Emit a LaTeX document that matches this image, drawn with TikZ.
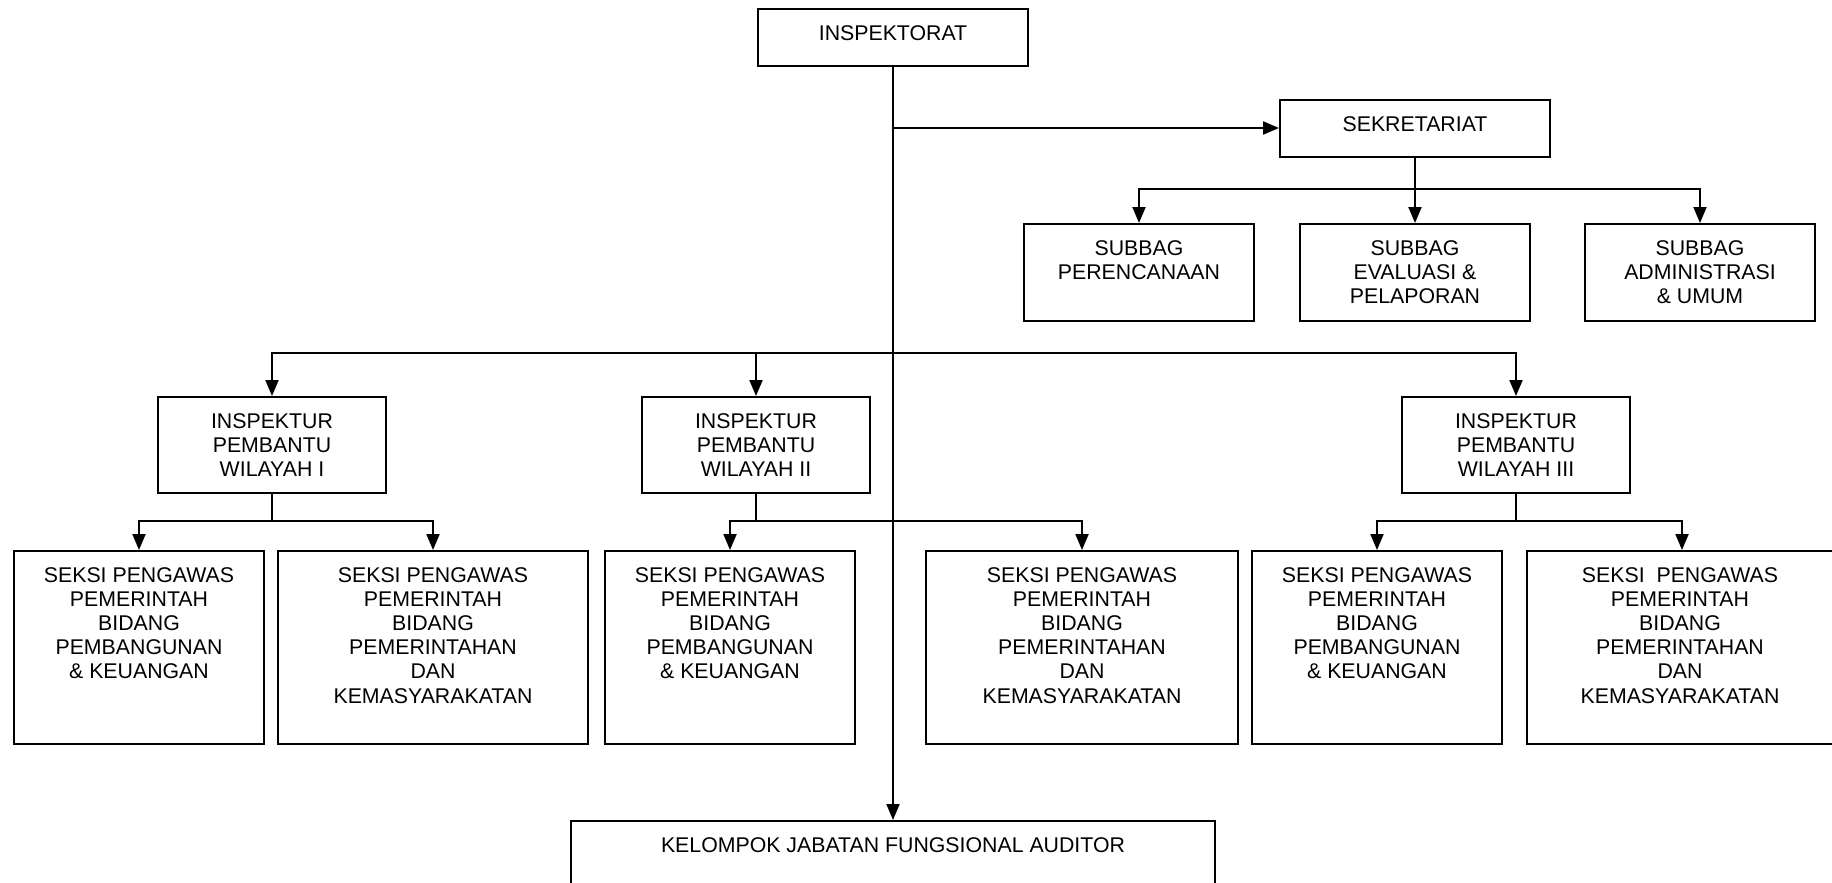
\documentclass[tikz,border=0pt]{standalone}
\usepackage{fontspec}
\setmainfont{Liberation Sans}
\usetikzlibrary{arrows.meta}
\begin{document}
\begin{tikzpicture}[x=1pt,y=-1pt,
  box/.style={draw, line width=2pt, inner sep=0pt, anchor=north west},
  txt/.style={font=\fontsize{21.3}{24.2}\selectfont, align=center, inner sep=0pt, anchor=north},
  arr/.style={line width=2pt, -{Triangle[length=16pt,width=13pt]}},
  ln/.style={line width=2pt}]
\useasboundingbox (0,0) rectangle (1832,883);
% boxes
\node[box, minimum width=270pt, minimum height=57pt] (insp) at (757,8) {};
\node[box, minimum width=270pt, minimum height=57pt] (sek) at (1279,99) {};
\node[box, minimum width=230pt, minimum height=97pt] (sb1) at (1023,223) {};
\node[box, minimum width=230pt, minimum height=97pt] (sb2) at (1299,223) {};
\node[box, minimum width=230pt, minimum height=97pt] (sb3) at (1584,223) {};
\node[box, minimum width=228pt, minimum height=96pt] (ip1) at (157,396) {};
\node[box, minimum width=228pt, minimum height=96pt] (ip2) at (641,396) {};
\node[box, minimum width=228pt, minimum height=96pt] (ip3) at (1401,396) {};
\node[box, minimum width=250pt, minimum height=193pt] (sk1) at (13,550) {};
\node[box, minimum width=310pt, minimum height=193pt] (sk2) at (277,550) {};
\node[box, minimum width=250pt, minimum height=193pt] (sk3) at (604,550) {};
\node[box, minimum width=312pt, minimum height=193pt] (sk4) at (925,550) {};
\node[box, minimum width=250pt, minimum height=193pt] (sk5) at (1251,550) {};
\node[box, minimum width=310pt, minimum height=193pt] (sk6) at (1526,550) {};
\node[box, minimum width=644pt, minimum height=100pt] (kel) at (570,820) {};
% texts
\node[txt] (insp-t) at ([yshift=-17pt]insp.north) {INSPEKTORAT};
\node[txt] (sek-t) at ([yshift=-17pt]sek.north) {SEKRETARIAT};
\node[txt] (sb1-t) at ([yshift=-17pt]sb1.north) {SUBBAG\\PERENCANAAN};
\node[txt] (sb2-t) at ([yshift=-17pt]sb2.north) {SUBBAG\\EVALUASI \&\\PELAPORAN};
\node[txt] (sb3-t) at ([yshift=-17pt]sb3.north) {SUBBAG\\ADMINISTRASI\\\& UMUM};
\node[txt] (ip1-t) at ([yshift=-17pt]ip1.north) {INSPEKTUR\\PEMBANTU\\WILAYAH I};
\node[txt] (ip2-t) at ([yshift=-17pt]ip2.north) {INSPEKTUR\\PEMBANTU\\WILAYAH II};
\node[txt] (ip3-t) at ([yshift=-17pt]ip3.north) {INSPEKTUR\\PEMBANTU\\WILAYAH III};
\node[txt] (sk1-t) at ([yshift=-17pt]sk1.north) {SEKSI PENGAWAS\\PEMERINTAH\\BIDANG\\PEMBANGUNAN\\\& KEUANGAN};
\node[txt] (sk2-t) at ([yshift=-17pt]sk2.north) {SEKSI PENGAWAS\\PEMERINTAH\\BIDANG\\PEMERINTAHAN\\DAN\\KEMASYARAKATAN};
\node[txt] (sk3-t) at ([yshift=-17pt]sk3.north) {SEKSI PENGAWAS\\PEMERINTAH\\BIDANG\\PEMBANGUNAN\\\& KEUANGAN};
\node[txt] (sk4-t) at ([yshift=-17pt]sk4.north) {SEKSI PENGAWAS\\PEMERINTAH\\BIDANG\\PEMERINTAHAN\\DAN\\KEMASYARAKATAN};
\node[txt] (sk5-t) at ([yshift=-17pt]sk5.north) {SEKSI PENGAWAS\\PEMERINTAH\\BIDANG\\PEMBANGUNAN\\\& KEUANGAN};
\node[txt] (sk6-t) at ([yshift=-17pt,xshift=-2pt]sk6.north) {SEKSI~ PENGAWAS\\PEMERINTAH\\BIDANG\\PEMERINTAHAN\\DAN\\KEMASYARAKATAN};
\node[txt] (kel-t) at ([yshift=-17pt]kel.north) {KELOMPOK JABATAN FUNGSIONAL AUDITOR};
% junction coordinates
\coordinate (jsek) at (0,128);
\coordinate (jsb) at (0,189);
\coordinate (jip) at (0,353);
\coordinate (jsk) at (0,521);
% connectors
\draw[arr] (insp.south) -- (insp.south |- kel.north);
\draw[arr] (insp.south |- jsek) -- (sek.west |- jsek);
\draw[arr] (sek.south) -- (sb2.north);
\draw[arr] (sek.south |- jsb) -| (sb1.north);
\draw[arr] (sek.south |- jsb) -| (sb3.north);
\draw[arr] (insp.south |- jip) -| (ip1.north);
\draw[arr] (insp.south |- jip) -| (ip2.north);
\draw[arr] (insp.south |- jip) -| (ip3.north);
\draw[ln] (ip1.south) -- (ip1.south |- jsk);
\draw[arr] (ip1.south |- jsk) -| (sk1.north);
\draw[arr] (ip1.south |- jsk) -| (sk2.north);
\draw[ln] (ip2.south) -- (ip2.south |- jsk);
\draw[arr] (ip2.south |- jsk) -| (sk3.north);
\draw[arr] (ip2.south |- jsk) -| (sk4.north);
\draw[ln] (ip3.south) -- (ip3.south |- jsk);
\draw[arr] (ip3.south |- jsk) -| (sk5.north);
\draw[arr] (ip3.south |- jsk) -| (sk6.north);
\end{tikzpicture}
\end{document}
